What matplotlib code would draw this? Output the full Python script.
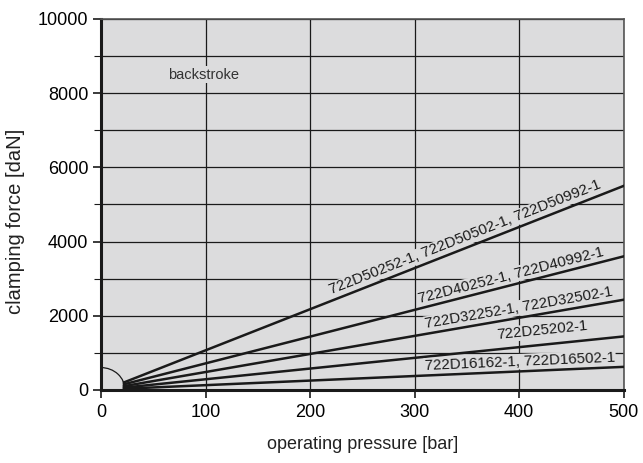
import numpy as np
import matplotlib
matplotlib.use("Agg")
import matplotlib.pyplot as plt
from matplotlib.patches import Arc

# data: force lines start near 22 bar and run to 500 bar
start_p = [22, 22, 22, 22, 22]
start_f = [200, 150, 100, 60, 30]
end_p = [500, 500, 500, 500, 500]
end_f = [5500, 3600, 2430, 1440, 620]
labels = [
    "722D50252-1, 722D50502-1, 722D50992-1",
    "722D40252-1, 722D40992-1",
    "722D32252-1, 722D32502-1",
    "722D25202-1",
    "722D16162-1, 722D16502-1",
]
label_x = [352, 395, 401, 423, 401]
label_off = [7, 7, 7, 10, 7]  # points above the line

x_ticks = [0, 100, 200, 300, 400, 500]
y_ticks = [0, 2000, 4000, 6000, 8000, 10000]

bg = "#dcdcdd"
ink = "#1a1a1a"
narrow = ["Liberation Sans Narrow", "Liberation Sans"]

plt.rcParams["font.family"] = ["Liberation Sans", "DejaVu Sans"]

fig = plt.figure(figsize=(6.43, 4.63), dpi=100)
ax = fig.add_axes([0.157, 0.158, 0.813, 0.801])
ax.set_facecolor(bg)
ax.set_xlim(0, 500)
ax.set_ylim(0, 10000)

ax.set_xticks(x_ticks)
ax.set_yticks(y_ticks)
ax.set_xticks(np.arange(0, 501, 100), minor=True)
ax.set_yticks(np.arange(0, 10001, 1000), minor=True)
ax.grid(True, which="both", color=ink, linewidth=0.9)
ax.set_axisbelow(True)
ax.tick_params(axis="both", which="major", labelsize=13, color=ink,
               length=6, width=1.2, pad=3)
ax.tick_params(axis="x", which="major", pad=4)
ax.tick_params(axis="y", which="minor", length=5, width=0.8, color=ink)
ax.tick_params(axis="x", which="minor", length=0)

for side in ["left", "bottom"]:
    ax.spines[side].set_linewidth(2.2)
    ax.spines[side].set_color(ink)
for side in ["top", "right"]:
    ax.spines[side].set_linewidth(1.2)
    ax.spines[side].set_color("#555555")

# quarter arc at the origin
ax.add_patch(Arc((0, 0), 2 * 23, 2 * 600, theta1=0, theta2=90,
                 color=ink, linewidth=0.9, zorder=3))

fig.canvas.draw()
for i in range(len(labels)):
    ax.plot([start_p[i], end_p[i]], [start_f[i], end_f[i]],
            color=ink, linewidth=1.8, zorder=4)
    a = ax.transData.transform((start_p[i], start_f[i]))
    b = ax.transData.transform((end_p[i], end_f[i]))
    ang = np.degrees(np.arctan2(b[1] - a[1], b[0] - a[0]))
    t = (label_x[i] - start_p[i]) / (end_p[i] - start_p[i])
    yl = start_f[i] + t * (end_f[i] - start_f[i])
    dx = -np.sin(np.radians(ang)) * label_off[i]
    dy = np.cos(np.radians(ang)) * label_off[i]
    ax.annotate(labels[i], (label_x[i], yl), xytext=(dx, dy),
                textcoords="offset points", rotation=ang,
                rotation_mode="anchor", ha="center", va="center",
                fontsize=10.8, color=ink, zorder=5,
                bbox=dict(facecolor=bg, edgecolor="none", pad=0.5))

ax.text(98, 8500, "backstroke", fontsize=10.5, color="#333333",
        ha="center", va="center", family=narrow,
        bbox=dict(facecolor=bg, edgecolor="none", pad=1))

ax.set_xlabel("operating pressure [bar]", fontsize=13, family=narrow,
              color="#222222")
ax.set_ylabel("clamping force [daN]", fontsize=14.5, family=narrow,
              color="#222222")
ax.xaxis.set_label_coords(0.5, -0.125)
ax.yaxis.set_label_coords(-0.145, 0.455)

fig.savefig("out.png", dpi=100, facecolor="white")
